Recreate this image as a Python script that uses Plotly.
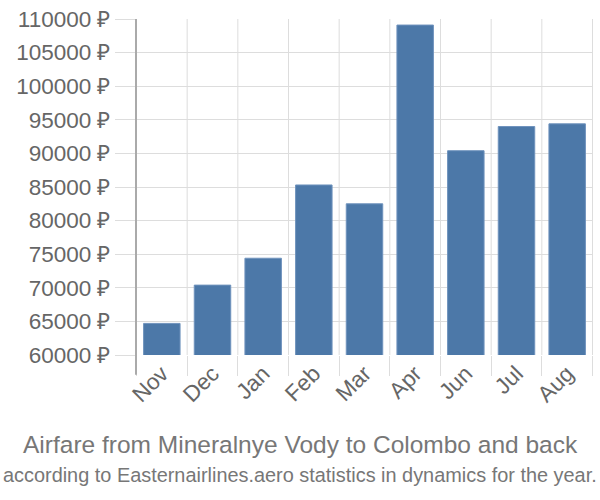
import plotly.graph_objects as go

months = ["Nov", "Dec", "Jan", "Feb", "Mar", "Apr", "Jun", "Jul", "Aug"]
prices = [64700, 70400, 74400, 85300, 82500, 109100, 90400, 94000, 94400]
y_ticks = [60000, 65000, 70000, 75000, 80000, 85000, 90000, 95000, 100000, 105000, 110000]
y_tick_labels = [f"{v} ₽" for v in y_ticks]
title_line1 = "Airfare from Mineralnye Vody to Colombo and back"
title_line2 = "according to Easternairlines.aero statistics in dynamics for the year."

font_family = "Liberation Sans, Arial, sans-serif"
L, R, T, B = 136, 7, 15, 145
PW = 600 - L - R
PH = 500 - T - B

fig = go.Figure()
fig.add_trace(go.Bar(
    x=months, y=prices,
    marker=dict(color="#4c78a8", line=dict(color="#6f93bd", width=1)),
    hoverinfo="skip",
))

fig.update_layout(
    width=600, height=500,
    margin=dict(l=L, r=R, t=T, b=B),
    plot_bgcolor="white", paper_bgcolor="white",
    bargap=0.28,
    showlegend=False,
    font=dict(family=font_family, color="#666", size=22),
)
fig.update_yaxes(
    range=[60000, 110000],
    tickvals=y_ticks, ticktext=y_tick_labels,
    showgrid=True, gridcolor="#dddddd", gridwidth=1,
    ticks="outside", ticklen=20, tickcolor="#dddddd", tickwidth=1,
    zeroline=False, showline=False,
    tickfont=dict(size=22.5, color="#666"),
)
fig.update_xaxes(
    tickangle=-45,
    showgrid=False,
    ticks="outside", ticklen=20, tickcolor="#dddddd", tickwidth=1,
    tickson="boundaries",
    showline=False, zeroline=False,
    tickfont=dict(size=22.5, color="#666"),
)
for i in range(len(months) + 1):
    fig.add_shape(type="line", xref="x", yref="paper",
                  x0=i - 0.5, x1=i - 0.5, y0=0, y1=1,
                  line=dict(color="#dddddd", width=1), layer="below")
fig.add_shape(type="line", xref="paper", yref="paper",
              x0=0, x1=0, y0=-20/PH, y1=1,
              line=dict(color="#aaaaaa", width=2), layer="above")

cx = (300 - L) / PW
fig.add_annotation(text=title_line1, xref="paper", yref="paper",
                   x=cx, xanchor="center", y=-(446-355)/PH, yanchor="middle",
                   showarrow=False, font=dict(size=24.5, color="#777"))
fig.add_annotation(text=title_line2, xref="paper", yref="paper",
                   x=cx, xanchor="center", y=-(476-355)/PH, yanchor="middle",
                   showarrow=False, font=dict(size=19.9, color="#777"))

fig.write_html("out.html", config={"displayModeBar": False})
with open("out.html", "r", encoding="utf-8") as f:
    html = f.read()
html = html.replace("<head>", "<head><style>body{margin:0;padding:0;overflow:hidden}</style>", 1)
with open("out.html", "w", encoding="utf-8") as f:
    f.write(html)
